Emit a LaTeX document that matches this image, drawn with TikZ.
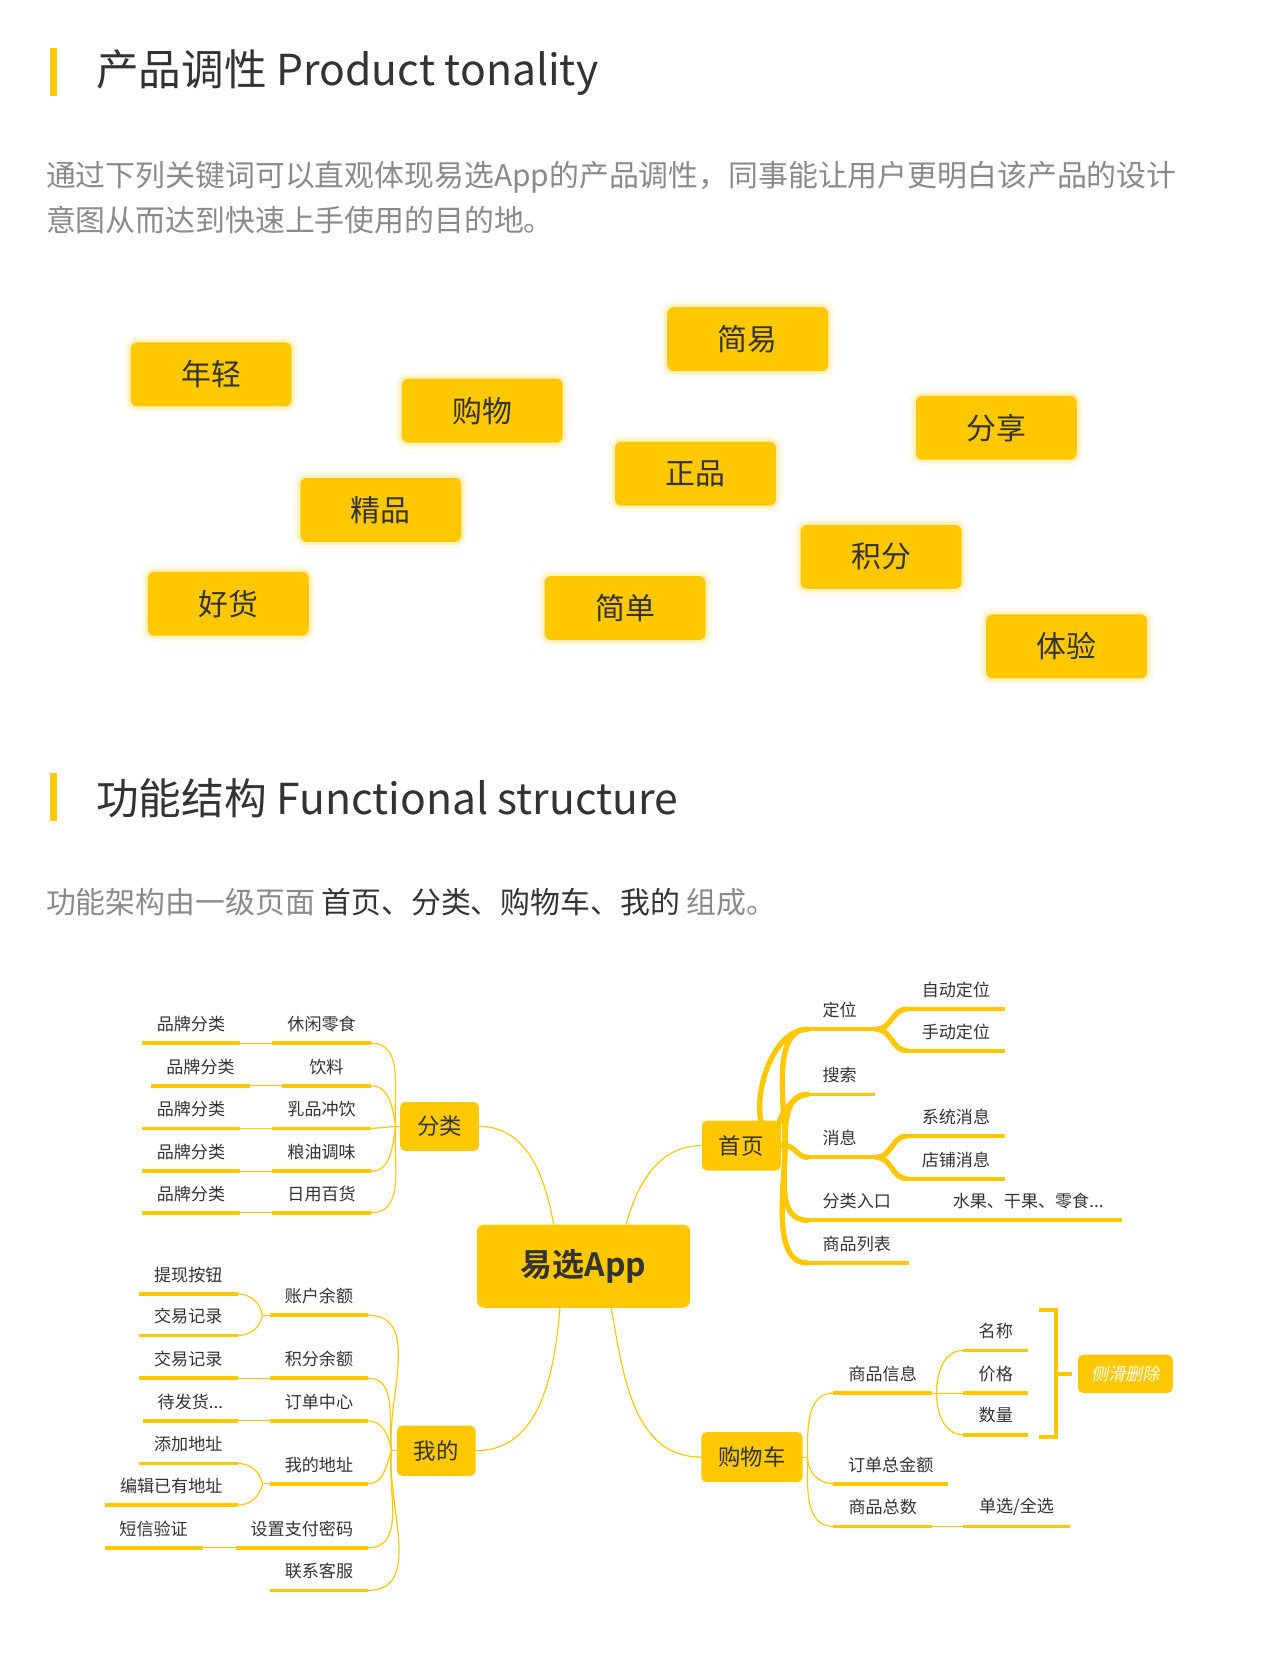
\documentclass[tikz,border=0pt]{standalone}
\usepackage{fontspec}
\setmainfont{Noto Sans CJK SC}
\newfontfamily\cjkb{Noto Sans CJK SC}[BoldFont={* Bold}]
\definecolor{yel}{HTML}{FFC800}
\definecolor{dark}{HTML}{333333}
\definecolor{gr}{HTML}{8A8A8A}
\newcommand\fs[1]{\fontsize{#1}{#1}\selectfont}
% \leaf{name}{x1}{x2}{y}{text}
\newcommand\leaf[5]{%
  \coordinate (#1-l) at (#2,#4); \coordinate (#1-r) at (#3,#4);
  \draw[ul] (#1-l) -- (#1-r);
  \node[lbl] (#1) at ($(#1-l)!.5!(#1-r)+(0,-18)$) {#5};}
\newcommand\leafL[5]{%
  \coordinate (#1-l) at (#2,#4); \coordinate (#1-r) at (#3,#4);
  \draw[ul] (#1-l) -- (#1-r);
  \node[lbl,anchor=west] (#1) at ($(#1-l)+(14,-18)$) {#5};}
\usetikzlibrary{calc}
\begin{document}
\begin{tikzpicture}[x=1pt,y=-1pt,
  kw/.style={fill=yel,rounded corners=6pt,minimum width=151pt,minimum height=60pt,text=dark,font=\fs{28},inner sep=0pt,
    preaction={draw=yel,line width=12pt,opacity=.08},
    preaction={draw=yel,line width=6pt,opacity=.15}},
  box/.style={fill=yel,rounded corners=5pt,text=dark,inner sep=0pt,font=\fs{21}},
  ul/.style={draw=yel,line width=3.5pt},
  thin/.style={draw=yel,line width=1.1pt},
  trunk/.style={draw=yel,line width=5pt,line cap=round},
  lbl/.style={text=dark,font=\fs{16},inner sep=0pt}]
\useasboundingbox[fill=white] (0,0) rectangle (1200,1570.3);
% section 1
\fill[yel] (47,45) rectangle (53,90);
\node[anchor=west,text=dark,font=\fs{40},inner sep=0pt] (t1) at (90,68) {产品调性 Product tonality};
\node[anchor=west,text=gr,font=\fs{28},inner sep=0pt] (p1) at (43,166) {通过下列关键词可以直观体现易选App的产品调性，同事能让用户更明白该产品的设计};
\node[anchor=west,text=gr,font=\fs{28},inner sep=0pt] (p2) at (43,206) {意图从而达到快速上手使用的目的地。};
\node[kw] (k1) at (198,351) {年轻};
\node[kw] (k2) at (452,385) {购物};
\node[kw] (k3) at (701,318) {简易};
\node[kw] (k4) at (934,401) {分享};
\node[kw] (k5) at (357,478) {精品};
\node[kw] (k6) at (652,444) {正品};
\node[kw] (k7) at (826,522) {积分};
\node[kw] (k8) at (214,566) {好货};
\node[kw] (k9) at (586,570) {简单};
\node[kw] (k10) at (1000,606) {体验};
% section 2
\fill[yel] (47,725) rectangle (53,770);
\node[anchor=west,text=dark,font=\fs{40},inner sep=0pt] (t2) at (90,748) {功能结构 Functional structure};
\node[anchor=west,font=\fs{28},inner sep=0pt] (p3) at (43,846) {\textcolor{gr}{功能架构由一级页面} \textcolor{dark}{首页、分类、购物车、我的} \textcolor{gr}{组成。}};
% central
\node[box,minimum width=200pt,minimum height=78pt,font=\cjkb\bfseries\fs{30},rounded corners=7pt] (app) at (547,1187) {易选App};
\node[box,minimum width=74pt,minimum height=46pt] (fl) at (412,1056) {分类};
\node[box,minimum width=74pt,minimum height=47pt] (wd) at (409,1360) {我的};
\node[box,minimum width=74pt,minimum height=47pt] (sy) at (695,1074) {首页};
\node[box,minimum width=95pt,minimum height=47pt] (gw) at (705,1366) {购物车};
\coordinate (a1) at (519,1148); \coordinate (a2) at (587,1148);
\coordinate (a3) at (525,1226); \coordinate (a4) at (573,1226);
\draw[thin] (fl.east) to[out=0,in=100] (a1);
\draw[thin] (sy.west) to[out=180,in=75] (a2);
\draw[thin] (wd.east) to[out=0,in=-95] (a3);
\draw[thin] (gw.west) to[out=180,in=-80] (a4);
% 分类 branch
\coordinate (hf) at (371,1056);
\draw[thin] (fl.west) -- (hf);
\foreach \n/\y/\a/\b/\t in {1/978/133/225/休闲零食,2/1018/142/234/饮料/水,3/1058/133/225/乳品冲饮,4/1098/133/225/粮油调味,5/1137/133/225/日用百货}{
  \leaf{fb\n}{\a}{\b}{\y}{品牌分类}
  \leaf{fc\n}{\ifnum\n=2 264\else 255\fi}{348}{\y}{\t}
  \draw[thin] (fb\n-r) -- (fc\n-l);
}
\draw[thin] (fc1-r) to[out=0,in=95] (hf);
\draw[thin] (fc2-r) to[out=0,in=100] (hf);
\draw[thin] (fc3-r) -- (hf);
\draw[thin] (fc4-r) to[out=0,in=-100] (hf);
\draw[thin] (fc5-r) to[out=0,in=-95] (hf);
% 我的 branch
\coordinate (hw) at (367,1360);
\draw[thin] (wd.west) -- (hw);
\leaf{w1}{130}{223}{1213}{提现按钮}
\leaf{w2}{130}{223}{1252}{交易记录}
\leaf{w3}{253}{345}{1233}{账户余额}
\coordinate (j1) at (246,1233);
\draw[thin] (w1-r) to[out=0,in=100] (j1);
\draw[thin] (w2-r) to[out=0,in=-100] (j1);
\draw[thin] (j1) -- (w3-l);
\leaf{w4}{130}{223}{1292}{交易记录}
\leaf{w5}{253}{345}{1292}{积分余额}
\draw[thin] (w4-r) -- (w5-l);
\leaf{w6}{134}{223}{1332}{待发货...}
\leaf{w7}{253}{345}{1332}{订单中心}
\draw[thin] (w6-r) -- (w7-l);
\leaf{w8}{130}{223}{1372}{添加地址}
\leaf{w9}{98}{223}{1411}{编辑已有地址}
\leaf{w10}{253}{345}{1391}{我的地址}
\coordinate (j2) at (246,1391);
\draw[thin] (w8-r) to[out=0,in=100] (j2);
\draw[thin] (w9-r) to[out=0,in=-100] (j2);
\draw[thin] (j2) -- (w10-l);
\leaf{w11}{98}{190}{1451}{短信验证}
\leaf{w12}{221}{345}{1451}{设置支付密码}
\draw[thin] (w11-r) -- (w12-l);
\leaf{w13}{253}{345}{1491}{联系客服}
\draw[thin] (w3-r) to[out=0,in=95] (hw);
\draw[thin] (w5-r) to[out=0,in=97] (hw);
\draw[thin] (w7-r) to[out=0,in=100] (hw);
\draw[thin] (w10-r) to[out=0,in=-110] (hw);
\draw[thin] (w12-r) to[out=0,in=-97] (hw);
\draw[thin] (w13-r) to[out=0,in=-95] (hw);
% 首页 branch
\coordinate (hs) at (736,1074);
\leafL{s1}{757}{822}{965}{定位}
\leafL{s2}{757}{820}{1026}{搜索}
\leafL{s3}{757}{822}{1085}{消息}
\leafL{s4}{757}{1052}{1144}{分类入口}
\leafL{s5}{757}{852}{1184}{商品列表}
\node[lbl,anchor=west] (s4b) at (893,1126) {水果、干果、零食...};
\foreach \k in {1,2}{\draw[trunk] (hs) to[out=-90+\k*0-180+90,in=180] (s\k-l);}
\draw[trunk] (hs) to[out=90,in=180,looseness=.8] (s1-l);
\draw[trunk] (hs) to[out=90,in=180] (s2-l);
\draw[trunk] (hs) to[out=0,in=180] (s3-l);
\draw[trunk] (hs) to[out=-90,in=180] (s4-l);
\draw[trunk] (hs) to[out=-90,in=180,looseness=.8] (s5-l);
\leafL{s6}{850}{942}{946}{自动定位}
\leafL{s7}{850}{942}{985}{手动定位}
\leafL{s8}{850}{942}{1065}{系统消息}
\leafL{s9}{850}{942}{1105}{店铺消息}
\draw[trunk] (s1-r) to[out=0,in=180] (s6-l);
\draw[trunk] (s1-r) to[out=0,in=180] (s7-l);
\draw[trunk] (s3-r) to[out=0,in=180] (s8-l);
\draw[trunk] (s3-r) to[out=0,in=180] (s9-l);
% 购物车 branch
\coordinate (hg) at (757,1366);
\draw[thin] (gw.east) -- (hg);
\leaf{g1}{781}{874}{1306}{商品信息}
\leaf{g2}{781}{889}{1391}{订单总金额}
\leaf{g3}{781}{874}{1431}{商品总数}
\leaf{g4}{903}{1003}{1431}{单选/全选}
\draw[thin] (g3-r) -- (g4-l);
\draw[thin] (hg) to[out=90,in=180] (g1-l);
\draw[thin] (hg) to[out=-90,in=180] (g2-l);
\draw[thin] (hg) to[out=-90,in=180] (g3-l);
\leaf{g5}{903}{964}{1266}{名称}
\leaf{g6}{903}{964}{1306}{价格}
\leaf{g7}{903}{964}{1345}{数量}
\coordinate (jg) at (878,1306);
\draw[thin] (g1-r) -- (g6-l);
\draw[thin] (jg) to[out=90,in=180] (g5-l);
\draw[thin] (jg) to[out=-90,in=180] (g7-l);
\draw[draw=yel,line width=4pt] (974,1228) -- (990,1228) -- (990,1347) -- (974,1347);
\draw[draw=yel,line width=4pt] (990,1288) -- (1005,1288);
\node[box,minimum width=89pt,minimum height=36pt,font=\fs{16}\itshape,text=white] (del) at (1055,1288) {\addfontfeature{FakeSlant=0.2}侧滑删除};
\end{tikzpicture}
\end{document}
